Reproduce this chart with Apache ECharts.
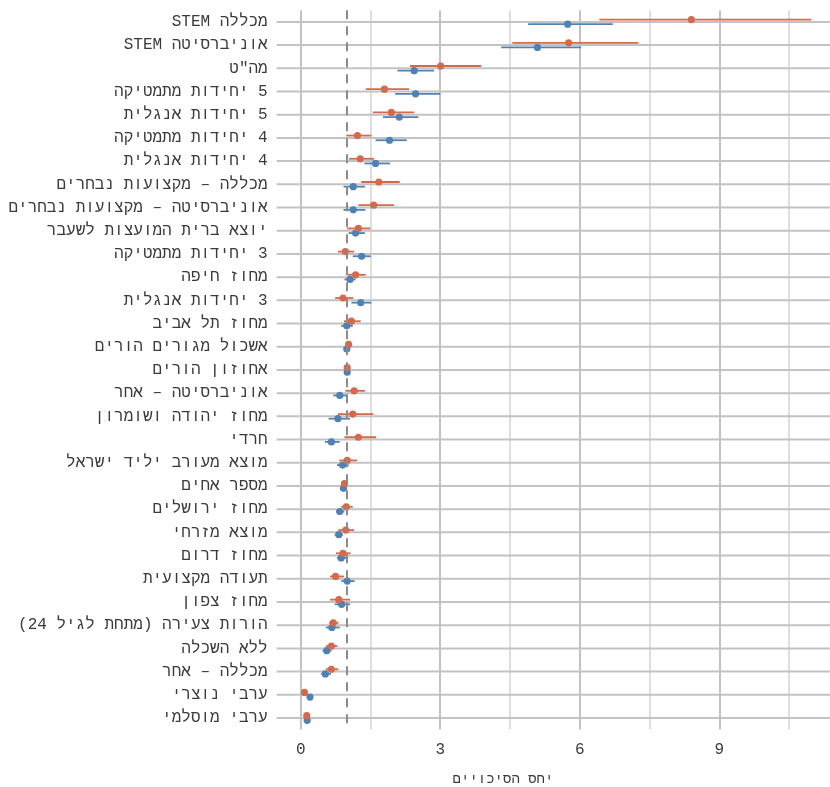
<!DOCTYPE html>
<html>
<head>
<meta charset="utf-8">
<script src="https://cdn.jsdelivr.net/npm/echarts@6/dist/echarts.min.js"></script>
<style>
html,body{margin:0;padding:0;background:#fff;}
#chart{width:830px;height:787px;direction:rtl;}
</style>
</head>
<body>
<div id="chart" dir="rtl"></div>
<script>
// Categories, top to bottom
const categories = [
  'מכללה STEM',
  'אוניברסיטה STEM',
  'מה"ט',
  '5 יחידות מתמטיקה',
  '5 יחידות אנגלית',
  '4 יחידות מתמטיקה',
  '4 יחידות אנגלית',
  'מכללה – מקצועות נבחרים',
  'אוניברסיטה – מקצועות נבחרים',
  'יוצא ברית המועצות לשעבר',
  '3 יחידות מתמטיקה',
  'מחוז חיפה',
  '3 יחידות אנגלית',
  'מחוז תל אביב',
  'אשכול מגורים הורים',
  'אחוזון הורים',
  'אוניברסיטה – אחר',
  'מחוז יהודה ושומרון',
  'חרדי',
  'מוצא מעורב יליד ישראל',
  'מספר אחים',
  'מחוז ירושלים',
  'מוצא מזרחי',
  'מחוז דרום',
  'תעודה מקצועית',
  'מחוז צפון',
  'הורות צעירה (מתחת לגיל 24)',
  'ללא השכלה',
  'מכללה – אחר',
  'ערבי נוצרי',
  'ערבי מוסלמי'
];

// Series A (orange-red): odds ratio, lower and upper bounds
const redEst = [8.40, 5.76, 3.01, 1.80, 1.95, 1.22, 1.28, 1.68, 1.57, 1.24, 0.96, 1.18, 0.91, 1.09, 1.03, 1.00, 1.15, 1.12, 1.24, 1.00, 0.94, 0.98, 0.97, 0.91, 0.75, 0.82, 0.70, 0.66, 0.66, 0.08, 0.13];
const redLo  = [6.42, 4.55, 2.35, 1.40, 1.55, 0.98, 1.04, 1.30, 1.24, 1.00, 0.80, 1.01, 0.74, 0.93, 1.00, 0.98, 0.96, 0.80, 0.94, 0.83, 0.91, 0.87, 0.81, 0.76, 0.63, 0.63, 0.61, 0.54, 0.54, 0.05, 0.11];
const redHi  = [10.98, 7.26, 3.88, 2.33, 2.44, 1.52, 1.58, 2.13, 2.01, 1.50, 1.15, 1.40, 1.13, 1.29, 1.06, 1.02, 1.38, 1.56, 1.62, 1.21, 0.97, 1.12, 1.15, 1.07, 0.93, 1.06, 0.81, 0.79, 0.81, 0.11, 0.15];

// Series B (blue)
const blueEst = [5.74, 5.09, 2.44, 2.47, 2.12, 1.91, 1.61, 1.13, 1.13, 1.18, 1.31, 1.06, 1.29, 0.99, 0.99, 1.00, 0.84, 0.80, 0.66, 0.90, 0.92, 0.84, 0.82, 0.87, 1.00, 0.88, 0.67, 0.56, 0.53, 0.20, 0.14];
const blueLo  = [4.89, 4.31, 2.08, 2.03, 1.77, 1.61, 1.37, 0.92, 0.92, 1.03, 1.12, 0.94, 1.09, 0.87, 0.97, 0.98, 0.70, 0.60, 0.52, 0.78, 0.89, 0.76, 0.73, 0.78, 0.87, 0.73, 0.54, 0.47, 0.44, 0.17, 0.12];
const blueHi  = [6.71, 6.03, 2.87, 3.00, 2.53, 2.28, 1.92, 1.38, 1.39, 1.38, 1.51, 1.18, 1.52, 1.12, 1.01, 1.02, 1.00, 1.06, 0.84, 1.03, 0.95, 0.94, 0.91, 0.99, 1.16, 1.06, 0.84, 0.66, 0.65, 0.23, 0.16];

// x-axis
const xTicks = [0, 3, 6, 9];
const xTitle = 'יחס הסיכויים';
const refValue = 1;

const RED = '#D4694E';
const BLUE = '#5081B3';
const GRID = '#C2C2C4';
const GRID_MINOR = '#DEDEDE';
const FONT = '"Liberation Mono", "DejaVu Sans Mono", monospace';
const TEXT = '#3A3A3A';

function build(est, lo, hi) {
  return est.map((v, i) => [i, v, lo[i], hi[i]]);
}

function makeRender(color, sign) {
  return function (params, api) {
    const i = api.value(0);
    const e = api.coord([api.value(1), i]);
    const l = api.coord([api.value(2), i]);
    const h = api.coord([api.value(3), i]);
    const dy = sign * api.size([0, 1])[1] * 0.1;
    return {
      type: 'group',
      children: [
        { type: 'line', shape: { x1: l[0], y1: l[1] + dy, x2: h[0], y2: h[1] + dy },
          style: { stroke: color, lineWidth: 1.8 } },
        { type: 'circle', shape: { cx: e[0], cy: e[1] + dy, r: 3.6 },
          style: { fill: color } }
      ]
    };
  };
}

const chart = echarts.init(document.getElementById('chart'));
chart.setOption({
  animation: false,
  backgroundColor: '#ffffff',
  grid: { left: 300.7, right: 0, top: 10.3, bottom: 57.4, containLabel: false },
  xAxis: {
    type: 'value', min: 0, max: 11.38, interval: 1.5,
    axisLine: { show: false }, axisTick: { show: false },
    axisLabel: {
      showMaxLabel: false,
      formatter: v => (xTicks.indexOf(Math.round(v * 100) / 100) >= 0 ? String(v) : ''),
      fontFamily: FONT, fontSize: 16, color: TEXT, margin: 12
    },
    splitLine: { show: true, showMaxLine: false,
      lineStyle: { color: [GRID, GRID_MINOR], width: 2 } }
  },
  yAxis: {
    type: 'category', data: categories, inverse: true,
    axisLine: { show: false },
    axisTick: { show: false },
    splitLine: { show: false },
    axisLabel: { fontFamily: FONT, fontSize: 16, color: TEXT, margin: 33 }
  },
  graphic: [
    { type: 'text', x: 503, y: 779,
      style: { text: xTitle, fontFamily: FONT, fontSize: 14, fill: TEXT, align: 'center', verticalAlign: 'middle' } }
  ],
  series: [
    {
      type: 'custom', name: 'grid', z: 1, silent: true,
      data: categories.map((c, i) => [0, i]),
      encode: { x: 0, y: 1 },
      renderItem: function (params, api) {
        const p = api.coord([0, api.value(1)]);
        const cs = params.coordSys;
        return { type: 'line', shape: { x1: cs.x - 24, y1: p[1], x2: cs.x + cs.width, y2: p[1] },
          style: { stroke: GRID, lineWidth: 2 } };
      }
    },
    {
      type: 'line', name: 'ref', z: 2, data: [], silent: true,
      markLine: { symbol: 'none', silent: true, label: { show: false },
        lineStyle: { color: '#8C8C8C', width: 2, type: [9, 7] },
        data: [{ xAxis: refValue }] }
    },
    {
      type: 'custom', name: 'כחול', z: 3,
      data: build(blueEst, blueLo, blueHi),
      encode: { x: [1, 2, 3], y: 0 },
      renderItem: makeRender(BLUE, 1)
    },
    {
      type: 'custom', name: 'אדום', z: 4,
      data: build(redEst, redLo, redHi),
      encode: { x: [1, 2, 3], y: 0 },
      renderItem: makeRender(RED, -1)
    }
  ]
});
</script>
</body>
</html>
